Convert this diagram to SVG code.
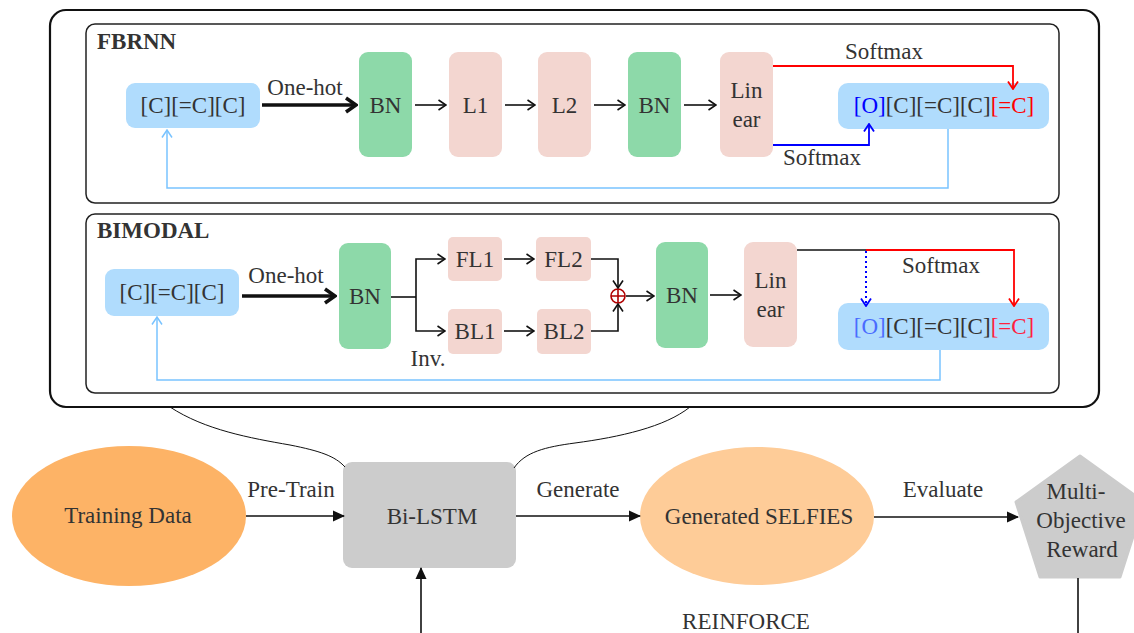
<svg xmlns="http://www.w3.org/2000/svg" width="1134" height="633" viewBox="0 0 1134 633">
<style>
text{font-family:"Liberation Serif","Times New Roman",serif;font-size:23px;fill:#333}
.c{text-anchor:middle}
.b{font-weight:bold}
.frame{fill:none;stroke:#222;stroke-width:1.5}
.sel{fill:#b0dcfd}
.bn{fill:#8dd9a9}
.ly{fill:#f3d6d0}
.ln{fill:none;stroke:#111;stroke-width:1.6}
.thick{fill:none;stroke:#111;stroke-width:3.5}
.red{fill:none;stroke:#ff0000;stroke-width:1.8}
.blue{fill:none;stroke:#0000ff;stroke-width:1.8}
.fb{fill:none;stroke:#79c3ff;stroke-width:1.5}
.thin{fill:none;stroke:#111;stroke-width:1}
</style>
<defs>
<marker id="chk" viewBox="0 0 10 12" refX="9" refY="6" markerWidth="10" markerHeight="12" markerUnits="userSpaceOnUse" orient="auto"><path d="M1.5,1 L9,6 L1.5,11" fill="none" stroke="#111" stroke-width="1.6"/></marker>
<marker id="chr" viewBox="0 0 10 12" refX="9" refY="6" markerWidth="10" markerHeight="12" markerUnits="userSpaceOnUse" orient="auto"><path d="M1.5,1 L9,6 L1.5,11" fill="none" stroke="#ff0000" stroke-width="1.8"/></marker>
<marker id="chb" viewBox="0 0 10 12" refX="9" refY="6" markerWidth="10" markerHeight="12" markerUnits="userSpaceOnUse" orient="auto"><path d="M1.5,1 L9,6 L1.5,11" fill="none" stroke="#0000ff" stroke-width="1.8"/></marker>
<marker id="chl" viewBox="0 0 10 12" refX="9" refY="6" markerWidth="10" markerHeight="12" markerUnits="userSpaceOnUse" orient="auto"><path d="M1.5,1 L9,6 L1.5,11" fill="none" stroke="#79c3ff" stroke-width="1.5"/></marker>
<marker id="cht" viewBox="0 0 14 18" refX="12" refY="9" markerWidth="14" markerHeight="18" markerUnits="userSpaceOnUse" orient="auto"><path d="M2,2 L12,9 L2,16" fill="none" stroke="#111" stroke-width="3.5"/></marker>
<marker id="tri" viewBox="0 0 12 12" refX="11" refY="6" markerWidth="12" markerHeight="12" markerUnits="userSpaceOnUse" orient="auto"><path d="M0,0.5 L12,6 L0,11.5 z" fill="#111"/></marker>
</defs>

<!-- frames -->
<g id="outer"><rect x="50" y="10" width="1049" height="397" rx="16" fill="none" stroke="#111" stroke-width="2.2"/></g>
<g id="fbrnn-frame"><rect x="86" y="24" width="973" height="179" rx="9" class="frame"/><text x="97" y="49" class="b">FBRNN</text></g>
<g id="bimodal-frame"><rect x="86" y="214" width="973" height="179" rx="9" class="frame"/><text x="97" y="238" class="b">BIMODAL</text></g>

<!-- FBRNN nodes -->
<g id="f-in"><rect x="126" y="83" width="134" height="45" rx="9" class="sel"/><text x="193" y="113" class="c">[C][=C][C]</text></g>
<g id="f-bn1"><rect x="359" y="52" width="53" height="105" rx="9" class="bn"/><text x="385.5" y="113" class="c">BN</text></g>
<g id="f-l1"><rect x="449" y="52" width="53" height="105" rx="9" class="ly"/><text x="475.5" y="113" class="c">L1</text></g>
<g id="f-l2"><rect x="538" y="52" width="53" height="105" rx="9" class="ly"/><text x="564.5" y="113" class="c">L2</text></g>
<g id="f-bn2"><rect x="628" y="52" width="53" height="105" rx="9" class="bn"/><text x="654.5" y="113" class="c">BN</text></g>
<g id="f-lin"><rect x="720" y="52" width="53" height="105" rx="9" class="ly"/><text x="746.5" y="98" class="c">Lin</text><text x="746.5" y="127" class="c">ear</text></g>
<g id="f-out"><rect x="838" y="83" width="211" height="46" rx="10" class="sel"/><text x="944" y="113" class="c"><tspan fill="#0000ff">[O]</tspan>[C][=C][C]<tspan fill="#ff0000">[=C]</tspan></text></g>

<!-- BIMODAL nodes -->
<g id="b-in"><rect x="105" y="269" width="134" height="47" rx="9" class="sel"/><text x="172" y="300" class="c">[C][=C][C]</text></g>
<g id="b-bn1"><rect x="339" y="243" width="52" height="106" rx="9" class="bn"/><text x="365" y="304" class="c">BN</text></g>
<g id="b-fl1"><rect x="448" y="237" width="54" height="44" rx="5" class="ly"/><text x="475" y="267" class="c">FL1</text></g>
<g id="b-fl2"><rect x="536" y="237" width="55" height="44" rx="5" class="ly"/><text x="563.5" y="267" class="c">FL2</text></g>
<g id="b-bl1"><rect x="448" y="309" width="54" height="45" rx="5" class="ly"/><text x="475" y="339" class="c">BL1</text></g>
<g id="b-bl2"><rect x="537" y="309" width="54" height="45" rx="5" class="ly"/><text x="564" y="339" class="c">BL2</text></g>
<g id="b-sum"><circle cx="618" cy="296" r="7" fill="none" stroke="#b00000" stroke-width="1.6"/><path d="M611,296 H625 M618,289 V303" stroke="#b00000" stroke-width="1.6"/></g>
<g id="b-bn2"><rect x="656" y="242" width="52" height="106" rx="9" class="bn"/><text x="682" y="303" class="c">BN</text></g>
<g id="b-lin"><rect x="744" y="242" width="53" height="105" rx="9" class="ly"/><text x="770.5" y="288" class="c">Lin</text><text x="770.5" y="317" class="c">ear</text></g>
<g id="b-out"><rect x="838" y="303" width="211" height="47" rx="10" class="sel"/><text x="944" y="334" class="c"><tspan fill="#4a6cff">[O]</tspan>[C][=C][C]<tspan fill="#ff2040">[=C]</tspan></text></g>

<!-- bottom nodes -->
<g id="training"><ellipse cx="129" cy="516" rx="117" ry="70" fill="#fdb366"/><text x="128" y="523" class="c">Training Data</text></g>
<g id="bilstm"><rect x="343" y="462" width="173" height="106" rx="9" fill="#cccccc"/><text x="432" y="524" class="c">Bi-LSTM</text></g>
<g id="generated"><ellipse cx="757" cy="516" rx="117" ry="69" fill="#fecc98"/><text x="759" y="524" class="c">Generated SELFIES</text></g>
<g id="reward"><path d="M1080,456 L1144,502 L1120,577 L1040,577 L1016,502 Z" fill="#cccccc" stroke="#cccccc" stroke-width="3" stroke-linejoin="round"/><text x="1076" y="499" class="c">Multi-</text><text x="1081" y="528" class="c">Objective</text><text x="1082" y="557" class="c">Reward</text></g>

<!-- connectors -->
<g id="connectors">
<!-- FBRNN -->
<path d="M262,105 H356" class="thick" marker-end="url(#cht)"/>
<text x="305" y="95" class="c">One-hot</text>
<path d="M415,105 H446" class="ln" marker-end="url(#chk)"/>
<path d="M505,105 H535" class="ln" marker-end="url(#chk)"/>
<path d="M594,105 H625" class="ln" marker-end="url(#chk)"/>
<path d="M684,105 H716" class="ln" marker-end="url(#chk)"/>
<path d="M773,66 H1013 V89" class="red" marker-end="url(#chr)"/>
<text x="884" y="59" class="c">Softmax</text>
<path d="M773,145 H869 V124" class="blue" marker-end="url(#chb)"/>
<text x="822" y="165" class="c">Softmax</text>
<path d="M948,129 V188 H167 V130" class="fb" marker-end="url(#chl)"/>
<!-- BIMODAL -->
<path d="M242,296 H335" class="thick" marker-end="url(#cht)"/>
<text x="286" y="283" class="c">One-hot</text>
<path d="M391,297 H416" class="ln"/>
<path d="M416,297 V259 H445" class="ln" marker-end="url(#chk)"/>
<path d="M416,297 V331 H445" class="ln" marker-end="url(#chk)"/>
<text x="428" y="366" class="c">Inv.</text>
<path d="M504,259 H534" class="ln" marker-end="url(#chk)"/>
<path d="M504,331 H534" class="ln" marker-end="url(#chk)"/>
<path d="M591,259 H618 V288" class="ln" marker-end="url(#chk)"/>
<path d="M591,331 H618 V304" class="ln" marker-end="url(#chk)"/>
<path d="M626,296 H654" class="ln" marker-end="url(#chk)"/>
<path d="M710,295 H741" class="ln" marker-end="url(#chk)"/>
<path d="M797,250 H866" class="ln"/>
<path d="M866,250 H1014 V306" class="red" marker-end="url(#chr)"/>
<path d="M866,251 V306" fill="none" stroke="#0000ff" stroke-width="2" stroke-dasharray="2,3" marker-end="url(#chb)"/>
<text x="941" y="273" class="c">Softmax</text>
<path d="M940,350 V380 H157 V317" class="fb" marker-end="url(#chl)"/>
<!-- zoom curves -->
<path d="M170,407 C205,430 250,438 290,445 C320,451 335,456 345,467" class="thin"/>
<path d="M514,468 C525,452 545,447 575,443 C620,437 665,427 690,407" class="thin"/>
<!-- bottom -->
<path d="M246,516 H344" class="ln" marker-end="url(#tri)"/>
<text x="291" y="497" class="c">Pre-Train</text>
<path d="M516,516 H640" class="ln" marker-end="url(#tri)"/>
<text x="578" y="497" class="c">Generate</text>
<path d="M874,517 H1018" class="ln" marker-end="url(#tri)"/>
<text x="943" y="497" class="c">Evaluate</text>
<path d="M421,633 V568" class="ln" marker-end="url(#tri)"/>
<path d="M1078,578 V633" class="ln"/>
<text x="746" y="629" class="c">REINFORCE</text>
</g>
</svg>
